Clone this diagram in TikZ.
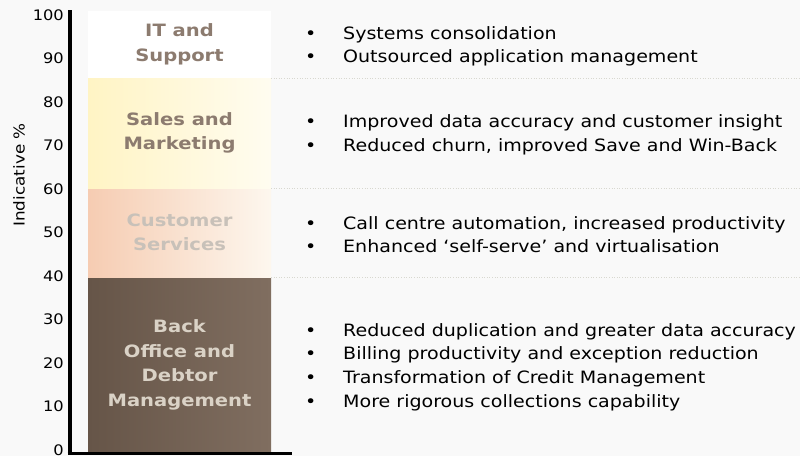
\documentclass[tikz,border=0pt]{standalone}
\usepackage{fontspec}
\setmainfont{DejaVu Sans}[FakeStretch=1.12]
\newfontfamily\barfont{DejaVu Sans}[FakeStretch=1.15]
\usetikzlibrary{positioning}
\usetikzlibrary{calc}

\definecolor{bgGray}{HTML}{F9F9F9}
\definecolor{labBrown}{HTML}{8C7B6F}
\definecolor{custText}{HTML}{C8C1B9}
\definecolor{backText}{HTML}{DAD2C6}
\definecolor{salesL}{HTML}{FFF4C4}
\definecolor{salesR}{HTML}{FFFCF0}
\definecolor{custL}{HTML}{F6CCB2}
\definecolor{custM}{HTML}{FFF6D6}
\definecolor{custR}{HTML}{FDF7EE}
\definecolor{backL}{HTML}{665548}
\definecolor{backR}{HTML}{806E60}
\definecolor{sepGray}{HTML}{D8D8D0}

\tikzset{
  bar/.style={minimum width=183pt, inner sep=0pt, outer sep=0pt, align=center,
    font=\barfont\bfseries\fontsize{17}{24.5}\selectfont},
  bullets/.style={anchor=west, inner sep=0pt, align=left, yshift=-2pt,
    font=\fontsize{17}{23.6}\selectfont},
  ticklab/.style={anchor=east, inner sep=0pt, font=\fontsize{14.5}{16}\selectfont},
  sepline/.style={sepGray, dotted, line width=0.6pt},
}
\newcommand{\bul}{\makebox[38pt][l]{\textbullet}}

\begin{document}
\begin{tikzpicture}[x=1pt, y=-1pt]
  \fill[bgGray] (0,0) rectangle (800,456);
  \useasboundingbox (0,0) rectangle (800,456);

  \node[bar, minimum height=176pt, left color=backL, right color=backR, text=backText]
    (backBar) at (179.5,365) {Back\\Office and\\Debtor\\Management};
  \node[bar, minimum height=89pt, left color=custL, middle color=custM, right color=custR, text=custText,
    above=0pt of backBar] (custBar) {Customer\\Services};
  \node[bar, minimum height=110pt, left color=salesL, right color=salesR, text=labBrown,
    above=0pt of custBar] (salesBar) {Sales and\\Marketing};
  \node[bar, minimum height=67pt, fill=white, text=labBrown,
    above=0pt of salesBar] (itBar) {IT and\\Support};

  \node[bullets, right=34pt of itBar] (itList)
    {\bul Systems consolidation\\ \bul Outsourced application management};
  \node[bullets, right=34pt of salesBar] (salesList)
    {\bul Improved data accuracy and customer insight\\ \bul Reduced churn, improved Save and Win-Back};
  \node[bullets, right=34pt of custBar] (custList)
    {\bul Call centre automation, increased productivity\\ \bul Enhanced ‘self-serve’ and virtualisation};
  \node[bullets, right=34pt of backBar] (backList)
    {\bul Reduced duplication and greater data accuracy\\ \bul Billing productivity and exception reduction\\
     \bul Transformation of Credit Management\\ \bul More rigorous collections capability};

  \coordinate (rightEdge) at (800,0);
  \draw[sepline] (itBar.south east) -- (itBar.south east -| rightEdge);
  \draw[sepline] (salesBar.south east) -- (salesBar.south east -| rightEdge);
  \draw[sepline] (custBar.south east) -- (custBar.south east -| rightEdge);

  \foreach \v in {0,10,...,100}
    \node[ticklab] (tick\v) at (64,{450-4.35*\v}) {\v};
  \node[rotate=90, font=\fontsize{15}{16}\selectfont] (yLabel) at (19,175) {Indicative \%};

  \coordinate (yTop) at (69.5,10);
  \coordinate (origin) at (69.5,453.5);
  \coordinate (xEnd) at (292,453.5);
  \draw[-, line width=4pt] (yTop) -- (origin.center);
  \draw[-, line width=3.5pt] (67.5,453.5) -- (xEnd);
\end{tikzpicture}
\end{document}
